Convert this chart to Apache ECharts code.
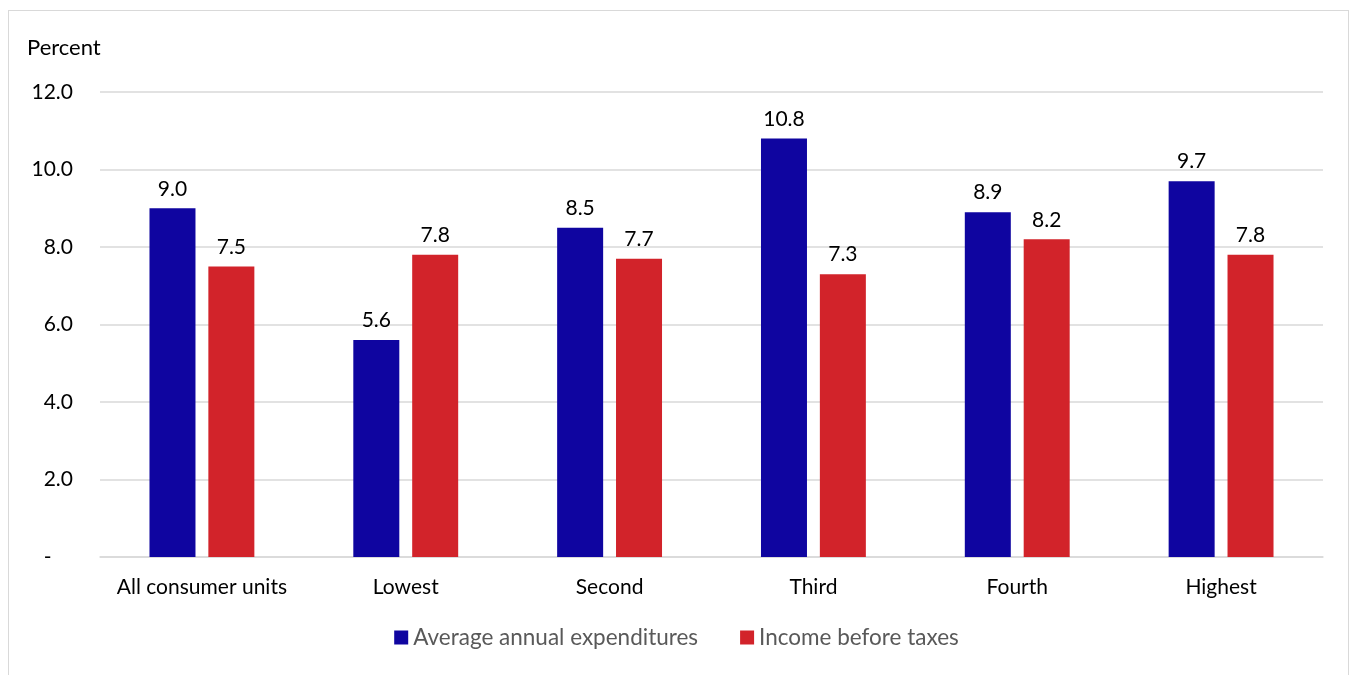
<!DOCTYPE html>
<html><head><meta charset="utf-8">
<script src="https://cdn.jsdelivr.net/npm/echarts@6/dist/echarts.min.js"></script>
<style>html,body{margin:0;padding:0;background:#fff}#c{width:1353px;height:675px;position:relative}
#frame{position:absolute;left:8px;top:10px;width:1341px;height:700px;border:1px solid #d9d9d9;box-sizing:border-box;pointer-events:none}</style>
</head><body><div id="c"></div><div id="frame"></div>
<script>
const categories = ['All consumer units', 'Lowest', 'Second', 'Third', 'Fourth', 'Highest'];
const expenditures = [9.0, 5.6, 8.5, 10.8, 8.9, 9.7];
const income = [7.5, 7.8, 7.7, 7.3, 8.2, 7.8];
const seriesNames = ['Average annual expenditures', 'Income before taxes'];
const yTicks = [0, 2, 4, 6, 8, 10, 12];

const FONT = 'Lato, "Open Sans", sans-serif';
const chart = echarts.init(document.getElementById('c'));
chart.setOption({
  animation: false,
  textStyle: { fontFamily: FONT },
  title: { text: 'Percent', left: 22, top: 32, textStyle: { fontSize: 22, fontWeight: 'normal', color: '#000', fontFamily: FONT } },
  legend: {
    data: seriesNames, bottom: 21, left: 'center', icon: 'rect', itemWidth: 14, itemHeight: 14, itemGap: 42,
    textStyle: { fontSize: 22.5, color: '#595959', fontFamily: FONT }
  },
  grid: { left: 100, right: 30, top: 92, bottom: 118 },
  xAxis: {
    type: 'category', data: categories,
    axisLine: { lineStyle: { color: '#d9d9d9', width: 1.5 } }, axisTick: { show: false },
    axisLabel: { fontSize: 21, color: '#000', margin: 20, interval: 0, fontFamily: FONT }
  },
  yAxis: {
    type: 'value', min: yTicks[0], max: yTicks[yTicks.length - 1], interval: 2,
    axisLine: { show: false }, axisTick: { show: false },
    splitLine: { lineStyle: { color: '#d9d9d9', width: 1.5 } },
    axisLabel: { fontSize: 21, color: '#000', margin: 27, fontFamily: FONT,
      formatter: v => v === 0 ? '-    ' : v.toFixed(1) }
  },
  series: [
    { name: seriesNames[0], type: 'bar', data: expenditures, barWidth: 46, barGap: '28%',
      itemStyle: { color: '#0F05A0' },
      label: { show: true, position: 'top', distance: 9, fontSize: 21, color: '#000', fontFamily: FONT, formatter: p => p.value.toFixed(1) } },
    { name: seriesNames[1], type: 'bar', data: income, barWidth: 46,
      itemStyle: { color: '#D2232A' },
      label: { show: true, position: 'top', distance: 9, fontSize: 21, color: '#000', fontFamily: FONT, formatter: p => p.value.toFixed(1) } }
  ]
});
</script></body></html>
